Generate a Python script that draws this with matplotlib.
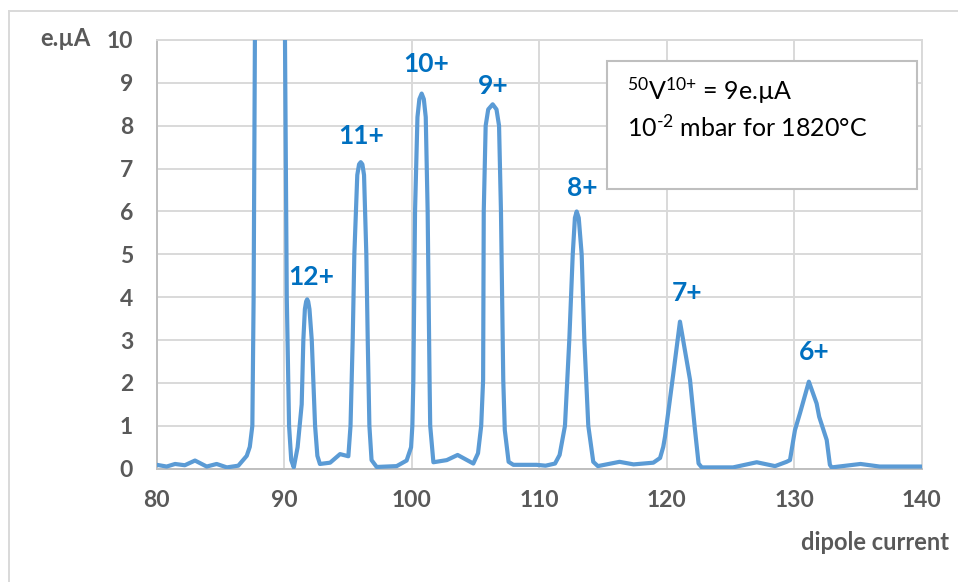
import matplotlib
matplotlib.use("Agg")
import matplotlib.pyplot as plt
from matplotlib.lines import Line2D
from matplotlib.patches import Rectangle

plt.rcParams["font.family"] = ["Lato", "DejaVu Sans"]
plt.rcParams["mathtext.fontset"] = "custom"
plt.rcParams["mathtext.rm"] = "Lato"
plt.rcParams["mathtext.it"] = "Lato:italic"
plt.rcParams["mathtext.bf"] = "Lato:bold"

LINE_COL  = "#5b9bd5"
LABEL_COL = "#0070c0"
TICK_COL  = "#595959"
GRID_COL  = "#d9d9d9"
AXIS_COL  = "#bfbfbf"

# ── data ─────────────────────────────────────────────────────────────────────
dipole = [80.0, 80.78, 81.44, 82.2, 83.0, 83.92, 84.7, 85.5, 86.4, 87.06, 87.3,
          87.5, 87.6, 87.7, 87.8, 88.9, 90.0, 90.06, 90.2, 90.38, 90.55, 90.75,
          91.05, 91.37, 91.5, 91.62, 91.72, 91.8, 91.88, 91.98, 92.16, 92.42,
          92.6, 92.8, 93.6, 94.38, 95.03, 95.2, 95.37, 95.5, 95.73, 95.87,
          96.0, 96.13, 96.26, 96.44, 96.55, 96.68, 96.85, 97.25, 98.82, 99.6,
          99.95, 100.05, 100.13, 100.26, 100.45, 100.6, 100.78, 100.95, 101.1,
          101.25, 101.4, 101.45, 101.7, 102.75, 103.6, 104.83, 105.2, 105.45,
          105.6, 105.65, 105.8, 106.0, 106.35, 106.65, 106.85, 107.0, 107.18,
          107.3, 107.6, 107.97, 109.8, 110.5, 111.24, 111.6, 112.02, 112.36,
          112.63, 112.8, 112.94, 113.1, 113.33, 113.54, 113.85, 114.24, 114.6,
          116.3, 117.4, 118.95, 119.48, 119.73, 119.87, 120.52, 121.04, 121.83,
          122.22, 122.5, 122.75, 125.2, 127.06, 128.5, 129.4, 129.67, 129.93,
          130.06, 130.45, 131.15, 131.76, 131.96, 132.55, 132.8, 132.94, 135.2,
          136.7, 140.0]
current = [0.09, 0.05, 0.11, 0.08, 0.19, 0.05, 0.11, 0.03, 0.07, 0.3, 0.51,
           1.0, 4.0, 10.0, 14.0, 30.0, 14.0, 10.0, 4.0, 1.0, 0.2, 0.03,
           0.5, 1.5, 3.0, 3.72, 3.9, 3.95, 3.9, 3.72, 3.0, 1.0,
           0.3, 0.11, 0.14, 0.34, 0.29, 1.0, 3.0, 5.0, 6.85, 7.1,
           7.15, 7.1, 6.85, 5.0, 3.0, 1.0, 0.2, 0.04, 0.06, 0.19,
           0.5, 1.0, 2.07, 6.0, 8.2, 8.62, 8.75, 8.62, 8.2,
           6.0, 2.07, 1.0, 0.15, 0.2, 0.32, 0.12, 0.36, 1.0,
           2.07, 6.0, 8.0, 8.38, 8.5, 8.38, 8.0, 6.0, 2.07,
           0.9, 0.16, 0.09, 0.09, 0.07, 0.12, 0.32, 1.0, 3.0,
           5.0, 5.85, 6.0, 5.85, 5.0, 3.0, 1.0, 0.16, 0.06,
           0.16, 0.1, 0.14, 0.25, 0.51, 0.75, 2.22, 3.43, 2.07,
           0.9, 0.12, 0.03, 0.03, 0.15, 0.06, 0.16, 0.2, 0.67,
           0.9, 1.29, 2.03, 1.52, 1.21, 0.67, 0.09, 0.03, 0.11,
           0.05, 0.05]

peak_labels = ["12+", "11+", "10+", "9+", "8+", "7+", "6+"]
label_x = [92.1, 96.05, 101.12, 106.38, 113.36, 121.6, 131.6]
label_y = [4.48, 7.76, 9.44, 8.93, 6.54, 4.10, 2.73]

x_ticks = [80, 90, 100, 110, 120, 130, 140]
y_ticks = list(range(0, 11))

# ── figure ───────────────────────────────────────────────────────────────────
fig = plt.figure(figsize=(9.58, 5.82), dpi=100, facecolor="white")
ax = fig.add_axes([0.1636, 0.1947, 0.7985, 0.7366])

ax.plot(dipole, current, color=LINE_COL, linewidth=3.0,
        solid_joinstyle="round", solid_capstyle="round", zorder=3)

for lab, lx, ly in zip(peak_labels, label_x, label_y):
    ax.text(lx, ly, lab, color=LABEL_COL, fontsize=19, fontweight="bold",
            ha="center", va="center", zorder=4)

ax.set_xlim(80, 140)
ax.set_ylim(0, 10)
ax.set_xticks(x_ticks)
ax.set_yticks(y_ticks)
ax.grid(True, color=GRID_COL, linewidth=1.4, zorder=0)
ax.set_axisbelow(True)
for side in ["top", "right"]:
    ax.spines[side].set_color(GRID_COL)
    ax.spines[side].set_linewidth(1.4)
for side in ["left", "bottom"]:
    ax.spines[side].set_color(AXIS_COL)
    ax.spines[side].set_linewidth(1.4)
ax.tick_params(length=0, labelsize=16.5, labelcolor=TICK_COL)
ax.tick_params(axis="y", pad=17)
ax.tick_params(axis="x", pad=15)
for t in ax.get_xticklabels() + ax.get_yticklabels():
    t.set_fontweight("bold")

fig.text(40 / 958, 1 - 38 / 582, "e.µA", color=TICK_COL, fontsize=17,
         fontweight="bold", ha="left", va="center")
fig.text(949 / 958, 1 - 542 / 582, "dipole current", color=TICK_COL,
         fontsize=17, fontweight="bold", ha="right", va="center")

# info box
fig.add_artist(Rectangle((0.6333, 0.6753), 0.3236, 0.2199,
                         transform=fig.transFigure, facecolor="white",
                         edgecolor=AXIS_COL, linewidth=1.5, zorder=5))
fig.text(627 / 958, 1 - 91 / 582, r"$^{50}$V$^{10{+}}$ = 9e.µA", fontsize=18,
         color="black", ha="left", va="center", zorder=6)
fig.text(627 / 958, 1 - 127 / 582, "10$^{\u2010 2}$ mbar for 1820°C", fontsize=18,
         color="black", ha="left", va="center", zorder=6)

# outer chart border
fig.add_artist(Line2D([8.5 / 958, 1.0], [1 - 11 / 582, 1 - 11 / 582],
                      transform=fig.transFigure, color=GRID_COL, linewidth=1.4))
fig.add_artist(Line2D([8.5 / 958, 8.5 / 958], [0.0, 1 - 11 / 582],
                      transform=fig.transFigure, color=GRID_COL, linewidth=1.4))

fig.savefig("out.png", dpi=100, facecolor="white")
plt.close(fig)
